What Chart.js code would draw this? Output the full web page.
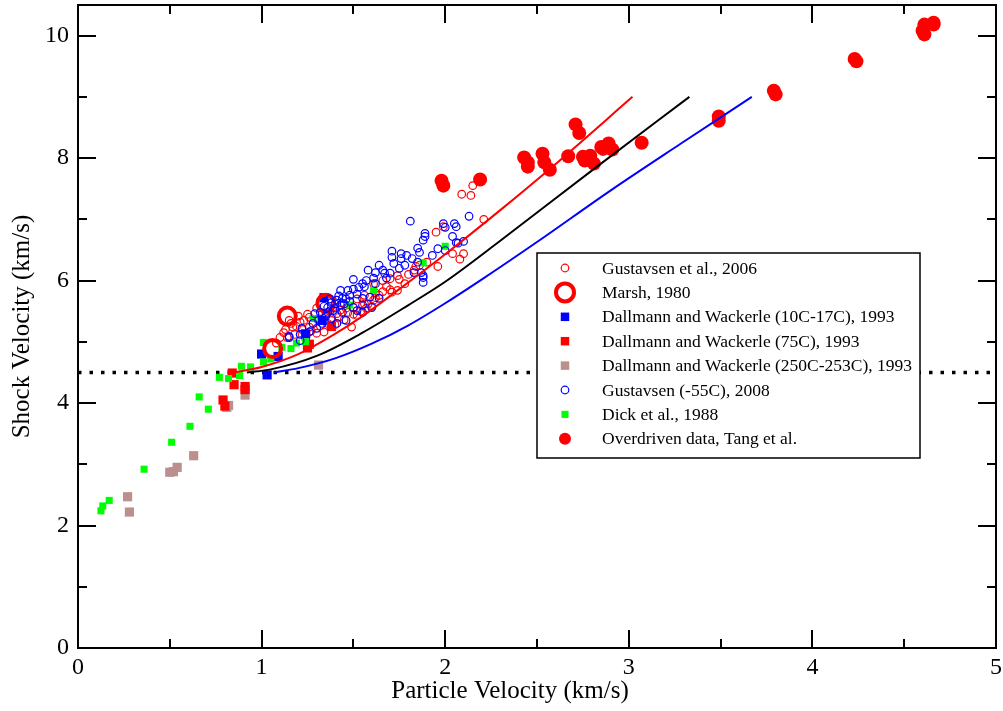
<!DOCTYPE html>
<html>
<head>
<meta charset="utf-8">
<title>Shock vs particle velocity</title>
<script src="https://cdn.jsdelivr.net/npm/chart.js@4.4.1/dist/chart.umd.min.js"></script>
<style>
  html, body { margin: 0; padding: 0; background: #fff; }
</style>
</head>
<body>
<canvas id="hugChart" width="1003" height="711"></canvas>
<script>
// [particle velocity, shock velocity] pairs (km/s)
const gustavsen2006 = [
  [2.15,7.55],[2.09,7.41],[2.14,7.39],[2.21,7.00],[1.99,6.88],[1.95,6.79],[2.04,6.44],[2.10,6.44],
  [2.08,6.35],[1.96,6.23],[1.86,6.25],[1.83,6.17],[1.75,6.02],[1.71,5.81],[1.64,5.76],[1.61,5.68],
  [1.57,5.55],[1.52,5.43],[1.44,5.63],[1.36,5.30],[1.26,5.40],[1.21,5.32],[1.17,5.24],[1.14,5.07],
  [1.10,5.07],[1.26,5.24],[1.30,5.14],[1.34,5.16],[1.41,5.46],[1.49,5.24],[1.56,5.76],[1.61,5.95],
  [1.66,6.00],[1.70,6.03],[1.74,5.84],[1.74,6.08],[1.84,6.23],[1.12,5.15],[1.18,5.12],[1.22,5.20],
  [1.28,5.30],[1.32,5.26],[1.38,5.35],[1.40,5.28],[1.45,5.36],[1.47,5.48],[1.50,5.56],[1.54,5.50],
  [1.58,5.62],[1.62,5.80],[1.68,5.90],[1.78,5.95],[1.16,5.30],[1.20,5.42],[1.08,4.98],[1.24,5.05],
  [1.35,5.45],[1.43,5.52],[1.52,5.70],[1.62,5.72],[1.90,6.30],[1.80,6.10],[1.30,5.55],[1.33,5.45],
  [1.13,5.20],[1.19,5.25],[1.23,5.35],[1.27,5.18],[1.15,5.35],[1.25,5.45],[1.31,5.38],[1.37,5.50],
  [1.42,5.40],[1.46,5.55],[1.50,5.45],[1.56,5.62],[1.60,5.58],[1.66,5.82],[1.70,5.85]
];
const marsh1980 = [[1.06,4.89],[1.14,5.42],[1.35,5.63]];
const dallmann10to17C = [[1.00,4.80],[1.03,4.46],[1.09,4.76],[1.24,5.13],[1.33,5.35],[1.34,5.72]];
const dallmann75C = [[0.79,4.05],[0.80,3.95],[0.84,4.49],[0.85,4.30],[0.91,4.27],[0.91,4.22],[1.25,4.90],[1.26,4.96],[1.38,5.25]];
const dallmann250C = [[0.27,2.47],[0.28,2.22],[0.50,2.87],[0.52,2.88],[0.54,2.95],[0.63,3.14],[0.81,3.93],[0.82,3.96],[0.91,4.13],[1.31,4.62]];
const gustavsen2008 = [
  [1.81,6.97],[2.13,7.05],[1.99,6.93],[2.00,6.87],[2.05,6.93],[2.06,6.88],[2.04,6.72],[1.89,6.77],
  [1.89,6.72],[1.88,6.66],[1.85,6.53],[1.86,6.46],[2.06,6.62],[2.10,6.64],[1.96,6.52],[1.93,6.41],
  [2.00,6.49],[1.71,6.48],[1.71,6.38],[1.76,6.44],[1.76,6.36],[1.79,6.41],[1.82,6.36],[1.72,6.28],
  [1.75,6.20],[1.83,6.13],[1.87,6.13],[1.88,6.05],[1.88,5.97],[1.64,6.25],[1.58,6.17],[1.62,6.13],
  [1.66,6.17],[1.67,6.12],[1.68,6.04],[1.61,6.04],[1.57,6.00],[1.50,6.02],[1.55,5.95],[1.53,5.89],
  [1.47,5.84],[1.43,5.84],[1.48,5.76],[1.44,5.71],[1.41,5.68],[1.38,5.64],[1.36,5.56],[1.39,5.51],
  [1.43,5.60],[1.44,5.48],[1.50,5.56],[1.55,5.60],[1.55,5.71],[1.59,5.73],[1.55,5.48],[1.64,5.71],
  [1.32,5.48],[1.31,5.35],[1.33,5.30],[1.30,5.22],[1.26,5.16],[1.21,5.12],[1.15,5.07],[1.21,5.02],
  [1.29,5.46],[1.38,5.38],[1.41,5.30],[1.46,5.35],[1.52,5.51],[1.60,5.56],[2.07,6.61],[1.88,6.08],
  [1.15,5.09],[1.35,5.42],[1.40,5.55],[1.45,5.62],[1.48,5.66],[1.52,5.78],[1.34,5.58],[1.37,5.70],[1.42,5.75],
  [1.22,5.22],[1.28,5.30],[1.36,5.48],[1.40,5.62],[1.46,5.70],[1.50,5.86],[1.56,5.90],[1.62,5.95],
  [1.70,6.12],[1.78,6.25],[1.85,6.30]
];
const dick1988 = [
  [0.125,2.24],[0.135,2.32],[0.17,2.41],[0.36,2.92],[0.51,3.36],[0.61,3.62],[0.71,3.90],[0.66,4.10],
  [0.77,4.42],[0.82,4.40],[0.88,4.45],[0.89,4.60],[0.94,4.59],[1.01,4.99],[1.01,4.67],[1.05,4.72],
  [1.11,4.91],[1.16,4.89],[1.19,4.98],[1.24,5.00],[1.28,5.38],[1.61,5.84],[1.88,6.29],[2.00,6.56],[1.48,5.60]
];
const overdrivenTang = [
  [1.98,7.63],[1.99,7.55],[2.19,7.65],[2.43,8.01],[2.45,7.93],[2.45,7.86],[2.53,8.07],[2.54,7.93],
  [2.57,7.81],[2.67,8.03],[2.71,8.55],[2.73,8.41],[2.75,8.02],[2.76,7.96],[2.79,8.04],[2.81,7.91],
  [2.85,8.18],[2.86,8.15],[2.89,8.24],[2.91,8.14],[3.07,8.25],[3.49,8.68],[3.49,8.61],[3.79,9.10],
  [3.80,9.04],[4.23,9.62],[4.24,9.58],[4.60,10.08],[4.61,10.02],[4.61,10.18],[4.66,10.21],[4.66,10.18]
];

// fitted Hugoniot curves
const redFit = [[0.85,4.50],[1.0,4.59],[1.2,4.80],[1.4,5.13],[1.55,5.42],[1.75,5.86],[2.0,6.43],[2.3,7.15],[2.6,7.90],[3.02,9.0]];
const blackFit = [[0.92,4.50],[1.05,4.55],[1.3,4.77],[1.55,5.15],[1.8,5.60],[2.0,5.98],[2.3,6.65],[2.8,7.80],[3.33,9.0]];
const blueFit = [[1.07,4.50],[1.2,4.57],[1.4,4.73],[1.6,4.97],[1.8,5.27],[2.0,5.63],[2.2,6.02],[2.5,6.63],[2.9,7.47],[3.28,8.23],[3.67,9.0]];
const cjLevel = [[0,4.5],[5,4.5]];

const xTicks = [0, 1, 2, 3, 4, 5];
const yTicks = [0, 2, 4, 6, 8, 10];

const SERIF = '"Liberation Serif", "Times New Roman", serif';
const toXY = arr => arr.map(p => ({ x: p[0], y: p[1] }));

function scatterSet(label, data, style, order) {
    return Object.assign({
        label: label,
        data: toXY(data),
        showLine: false,
        order: order
    }, style);
}

function fitSet(data, color) {
    return {
        label: '',
        data: toXY(data),
        showLine: true,
        borderColor: color,
        borderWidth: 2,
        pointRadius: 0,
        cubicInterpolationMode: 'monotone',
        fill: false,
        order: 0,
        inLegend: false
    };
}

const datasets = [
    scatterSet('Gustavsen et al., 2006', gustavsen2006, {
        pointStyle: 'circle', pointRadius: 3.8, pointBorderWidth: 1.2,
        borderColor: '#ff0000', backgroundColor: 'rgba(0,0,0,0)'
    }, 8),
    scatterSet('Marsh, 1980', marsh1980, {
        pointStyle: 'circle', pointRadius: 8.5, pointBorderWidth: 4,
        borderColor: '#ff0000', backgroundColor: 'rgba(0,0,0,0)'
    }, 2.5),
    scatterSet('Dallmann and Wackerle (10C-17C), 1993', dallmann10to17C, {
        pointStyle: 'rect', pointRadius: 6.5, pointBorderWidth: 0,
        borderColor: '#0000ff', backgroundColor: '#0000ff'
    }, 5),
    scatterSet('Dallmann and Wackerle (75C), 1993', dallmann75C, {
        pointStyle: 'rect', pointRadius: 6.5, pointBorderWidth: 0,
        borderColor: '#ff0000', backgroundColor: '#ff0000'
    }, 6),
    scatterSet('Dallmann and Wackerle (250C-253C), 1993', dallmann250C, {
        pointStyle: 'rect', pointRadius: 6.5, pointBorderWidth: 0,
        borderColor: '#bc8f8f', backgroundColor: '#bc8f8f'
    }, 7),
    scatterSet('Gustavsen (-55C), 2008', gustavsen2008, {
        pointStyle: 'circle', pointRadius: 3.8, pointBorderWidth: 1.2,
        borderColor: '#0000ff', backgroundColor: 'rgba(0,0,0,0)'
    }, 2),
    scatterSet('Dick et al., 1988', dick1988, {
        pointStyle: 'rect', pointRadius: 5, pointBorderWidth: 0,
        borderColor: '#00ff00', backgroundColor: '#00ff00'
    }, 3),
    scatterSet('Overdriven data, Tang et al.', overdrivenTang, {
        pointStyle: 'circle', pointRadius: 7, pointBorderWidth: 0,
        borderColor: '#ff0000', backgroundColor: '#ff0000'
    }, 1),
    fitSet(redFit, '#ff0000'),
    fitSet(blackFit, '#000000'),
    fitSet(blueFit, '#0000ff'),
    {
        label: '',
        data: toXY(cjLevel),
        showLine: true,
        borderColor: '#000000',
        borderWidth: 3.5,
        borderDash: [3.5, 8],
        borderCapStyle: 'butt',
        pointRadius: 0,
        order: 9,
        inLegend: false
    }
];

// frame, inward ticks on all sides, axis titles and the boxed legend
const framePlugin = {
    id: 'framePlugin',
    afterDatasetsDraw(chart) {
        const ctx = chart.ctx;
        const a = chart.chartArea;
        const xs = chart.scales.x;
        const ys = chart.scales.y;

        ctx.save();
        ctx.strokeStyle = '#000';
        ctx.lineWidth = 2;
        ctx.beginPath();
        for (let v = 0; v <= 5.001; v += 0.5) {
            const px = Math.round(xs.getPixelForValue(v));
            const len = Math.abs(v - Math.round(v)) < 1e-6 ? 18 : 9;
            ctx.moveTo(px, a.bottom); ctx.lineTo(px, a.bottom - len);
            ctx.moveTo(px, a.top); ctx.lineTo(px, a.top + len);
        }
        for (let v = 0; v <= 10; v++) {
            const py = Math.round(ys.getPixelForValue(v));
            const len = v % 2 === 0 ? 18 : 9;
            ctx.moveTo(a.left, py); ctx.lineTo(a.left + len, py);
            ctx.moveTo(a.right, py); ctx.lineTo(a.right - len, py);
        }
        ctx.stroke();
        ctx.strokeRect(a.left, a.top, a.right - a.left, a.bottom - a.top);

        // axis titles
        ctx.fillStyle = '#000';
        ctx.font = '25px ' + SERIF;
        ctx.textAlign = 'center';
        ctx.textBaseline = 'middle';
        ctx.fillText('Particle Velocity (km/s)', 510, 691);
        ctx.save();
        ctx.translate(22, (a.top + a.bottom) / 2);
        ctx.rotate(-Math.PI / 2);
        ctx.fillText('Shock Velocity (km/s)', 0, 0);
        ctx.restore();

        // legend box
        const box = { left: 537, top: 253, right: 920, bottom: 458 };
        ctx.fillStyle = '#fff';
        ctx.fillRect(box.left, box.top, box.right - box.left, box.bottom - box.top);
        ctx.lineWidth = 1.5;
        ctx.strokeRect(box.left, box.top, box.right - box.left, box.bottom - box.top);

        const entries = chart.data.datasets.filter(d => d.inLegend !== false);
        ctx.font = '17.5px ' + SERIF;
        ctx.textAlign = 'left';
        entries.forEach((d, i) => {
            const cy = 268 + i * 24.4;
            const cx = 565;
            let r = d.pointRadius;
            if (d.label.indexOf('Marsh') === 0) r = 9;
            if (d.pointStyle === 'rect') {
                const s = Math.min(r, 6) * Math.SQRT1_2;
                ctx.fillStyle = d.backgroundColor;
                ctx.fillRect(cx - s, cy - s, 2 * s, 2 * s);
            } else {
                ctx.beginPath();
                ctx.arc(cx, cy, d.pointBorderWidth > 0 ? r : Math.min(r, 6), 0, Math.PI * 2);
                if (d.pointBorderWidth > 0) {
                    ctx.lineWidth = d.pointBorderWidth;
                    ctx.strokeStyle = d.borderColor;
                    ctx.stroke();
                } else {
                    ctx.fillStyle = d.backgroundColor;
                    ctx.fill();
                }
            }
            ctx.fillStyle = '#000';
            ctx.textBaseline = 'middle';
            ctx.fillText(d.label, 602, cy + 1);
        });
        ctx.restore();
    }
};

new Chart(document.getElementById('hugChart').getContext('2d'), {
    type: 'scatter',
    data: { datasets: datasets },
    options: {
        responsive: false,
        animation: false,
        events: [],
        layout: { autoPadding: false, padding: { top: 5, right: 7, left: 0, bottom: 0 } },
        plugins: {
            legend: { display: false },
            tooltip: { enabled: false },
            title: { display: false }
        },
        scales: {
            x: {
                type: 'linear',
                min: 0,
                max: 5,
                grid: { display: false, drawTicks: false },
                border: { display: false },
                afterBuildTicks: s => { s.ticks = xTicks.map(v => ({ value: v })); },
                ticks: {
                    color: '#000',
                    padding: 5,
                    maxRotation: 0,
                    font: { family: SERIF, size: 24 }
                },
                afterFit: s => {
                    s.height = 63;
                    s.paddingLeft = 0;
                    s.paddingRight = 0;
                }
            },
            y: {
                type: 'linear',
                min: 0,
                max: 10.5,
                grid: { display: false, drawTicks: false },
                border: { display: false },
                afterBuildTicks: s => { s.ticks = yTicks.map(v => ({ value: v })); },
                ticks: {
                    color: '#000',
                    padding: 9,
                    font: { family: SERIF, size: 24 }
                },
                afterFit: s => {
                    s.width = 78;
                    s.paddingTop = 0;
                    s.paddingBottom = 0;
                }
            }
        }
    },
    plugins: [framePlugin]
});
</script>
</body>
</html>
